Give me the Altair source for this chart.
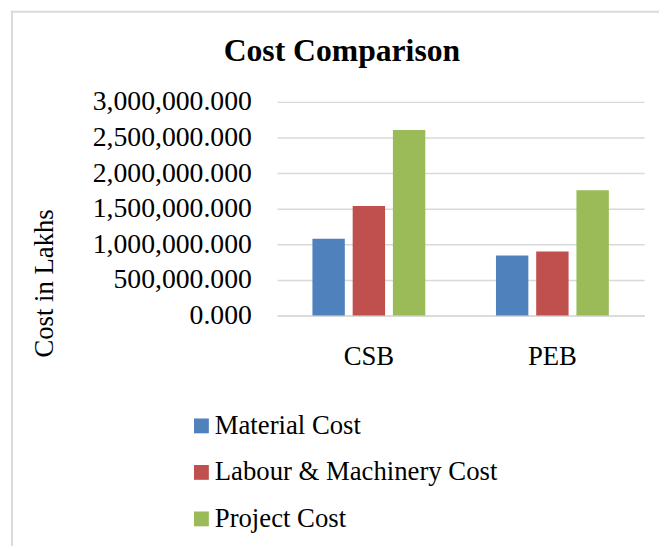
import altair as alt
import pandas as pd

groups = ["CSB", "PEB"]
series = ["Material Cost", "Labour & Machinery Cost", "Project Cost"]
material = [1079000, 843000]
labour = [1537000, 898000]
project = [2606000, 1759000]
colors = ["#4F81BD", "#C0504D", "#9BBB59"]
y_ticks = [0, 500000, 1000000, 1500000, 2000000, 2500000, 3000000]
title_text = "Cost Comparison"

rows = []
for i, g in enumerate(groups):
    for s, vals in zip(series, [material, labour, project]):
        rows.append({"Building": g, "Series": s, "Cost": vals[i]})
df = pd.DataFrame(rows)

FONT = "Liberation Serif"

bars = alt.Chart(df).mark_bar().encode(
    x=alt.X("Building:N", sort=groups,
            scale=alt.Scale(paddingInner=0.385, paddingOuter=0.1925),
            axis=alt.Axis(title=None, labelAngle=0, ticks=False, labelPadding=28,
                          labelFontSize=27, labelFont=FONT, labelColor="#000000",
                          domainColor="#d9d9d9", domainWidth=1.5, grid=False)),
    xOffset=alt.XOffset("Series:N", sort=series,
                        scale=alt.Scale(paddingInner=0.195, paddingOuter=0)),
    y=alt.Y("Cost:Q", scale=alt.Scale(domain=[0, 3000000], nice=False),
            axis=alt.Axis(title="Cost in Lakhs", values=y_ticks, format=",.3f",
                          ticks=False, domain=False, labelPadding=26,
                          labelFontSize=28, labelFont=FONT, labelColor="#000000",
                          gridColor="#d9d9d9", gridWidth=1.5,
                          titleFont=FONT, titleFontSize=27, titleFontWeight="normal",
                          titleColor="#000000", titleX=-235, titleY=183,
                          titleAngle=270, titleAlign="center", titleBaseline="middle")),
    color=alt.Color("Series:N", sort=series,
                    scale=alt.Scale(domain=series, range=colors),
                    legend=alt.Legend(title=None, orient="none", legendX=-90, legendY=314,
                                      symbolType="square", symbolSize=225,
                                      symbolStrokeWidth=0, labelFontSize=27,
                                      labelFont=FONT, labelColor="#000000", labelLimit=0,
                                      labelOffset=0, rowPadding=19, direction="vertical")),
)

one = pd.DataFrame({"a": [0]})
frame_left = alt.Chart(one).mark_rule(stroke="#d9d9d9", strokeWidth=2).encode(
    x=alt.value(-268), y=alt.value(-92), y2=alt.value(470)
)
frame_top = alt.Chart(one).mark_rule(stroke="#d9d9d9", strokeWidth=2).encode(
    x=alt.value(-269), x2=alt.value(420), y=alt.value(-91)
)
title = alt.Chart(pd.DataFrame({"t": [title_text]})).mark_text(
    font=FONT, fontSize=32, fontWeight="bold", color="#000000",
    align="center", baseline="alphabetic"
).encode(text="t:N", x=alt.value(65.5), y=alt.value(-41))

chart = alt.layer(frame_left, frame_top, title, bars).properties(
    width=371, height=216,
    autosize=alt.AutoSizeParams(type="none"),
    padding={"left": 272, "top": 92, "right": 15, "bottom": 230},
).configure_view(stroke=None)

chart.save("out.html", embed_options={"renderer": "svg", "actions": False})
